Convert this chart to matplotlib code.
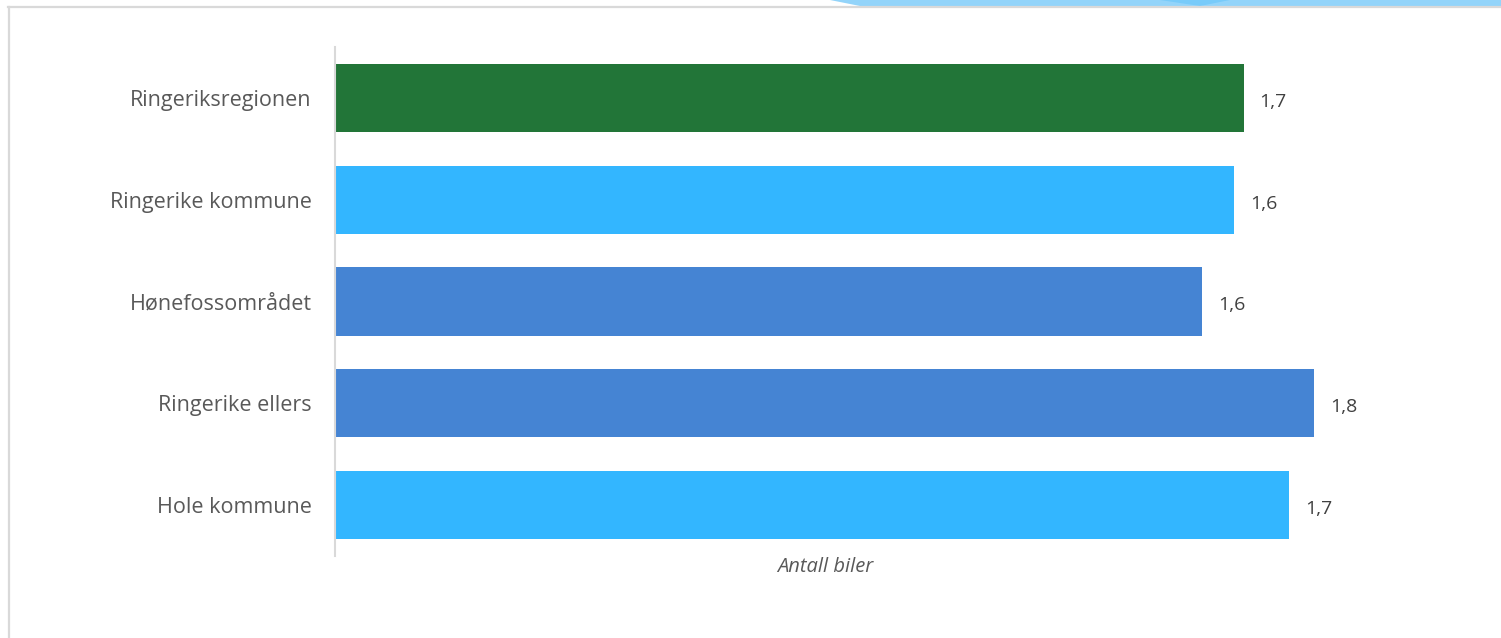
import matplotlib
matplotlib.use("Agg")
import matplotlib.pyplot as plt
from matplotlib.patches import Polygon
from matplotlib.lines import Line2D

categories = ["Ringeriksregionen", "Ringerike kommune", "Hønefossområdet", "Ringerike ellers", "Hole kommune"]
values = [1.66, 1.644, 1.59, 1.78, 1.737]
colors = ["#227538", "#33B6FF", "#4584D3", "#4584D3", "#33B6FF"]
xlabel = "Antall biler"

W, H = 1501, 638
fig = plt.figure(figsize=(W / 100, H / 100), dpi=100)
fig.patch.set_facecolor("white")

# decorative top strip and frame
strip = Polygon([(830 / W, 1), (1.0, 1), (1.0, 1 - 6 / H), (860 / W, 1 - 6 / H)],
                closed=True, transform=fig.transFigure, facecolor="#93D4FA",
                edgecolor="none")
fig.patches.append(strip)
darker = Polygon([(1160 / W, 1), (1230 / W, 1), (1200 / W, 1 - 6 / H)],
                 closed=True, transform=fig.transFigure, facecolor="#78CBFA",
                 edgecolor="none")
fig.patches.append(darker)
fig.add_artist(Line2D([8 / W, 1.0], [1 - 7 / H, 1 - 7 / H], transform=fig.transFigure,
                      color="#D9D9D9", lw=1.6))
fig.add_artist(Line2D([8.5 / W, 8.5 / W], [0, 1 - 7 / H], transform=fig.transFigure,
                      color="#D9D9D9", lw=1.6))

left_px, right_px, top_px, bot_px = 335, 1315, 47, 556
ax = fig.add_axes([left_px / W, 1 - bot_px / H, (right_px - left_px) / W, (bot_px - top_px) / H])

xmin = 0.119
ypos = list(range(len(categories)))
ax.barh(ypos, values, left=0, height=0.67, color=colors, zorder=2)
ax.set_xlim(xmin, 1.781)
ax.set_ylim(len(categories) - 0.5, -0.5)

for y, v in zip(ypos, values):
    ax.annotate(f"{v:.1f}".replace(".", ","), xy=(v, y), xytext=(16, -4),
                textcoords="offset pixels",
                ha="left", va="center", fontsize=14, color="#404040",
                family="Open Sans", annotation_clip=False)

ax.set_yticks(ypos)
ax.set_yticklabels(categories, fontsize=15.5, color="#595959", family="Open Sans")
ax.tick_params(axis="y", length=0, pad=17)
ax.set_xticks([])
for s in ["top", "right", "bottom"]:
    ax.spines[s].set_visible(False)
ax.spines["left"].set_color("#D9D9D9")
ax.spines["left"].set_linewidth(1.5)
ax.set_xlabel(xlabel, fontsize=14.5, color="#595959", style="italic", family="Open Sans", labelpad=1)

fig.savefig("out.png", dpi=100, facecolor="white")
